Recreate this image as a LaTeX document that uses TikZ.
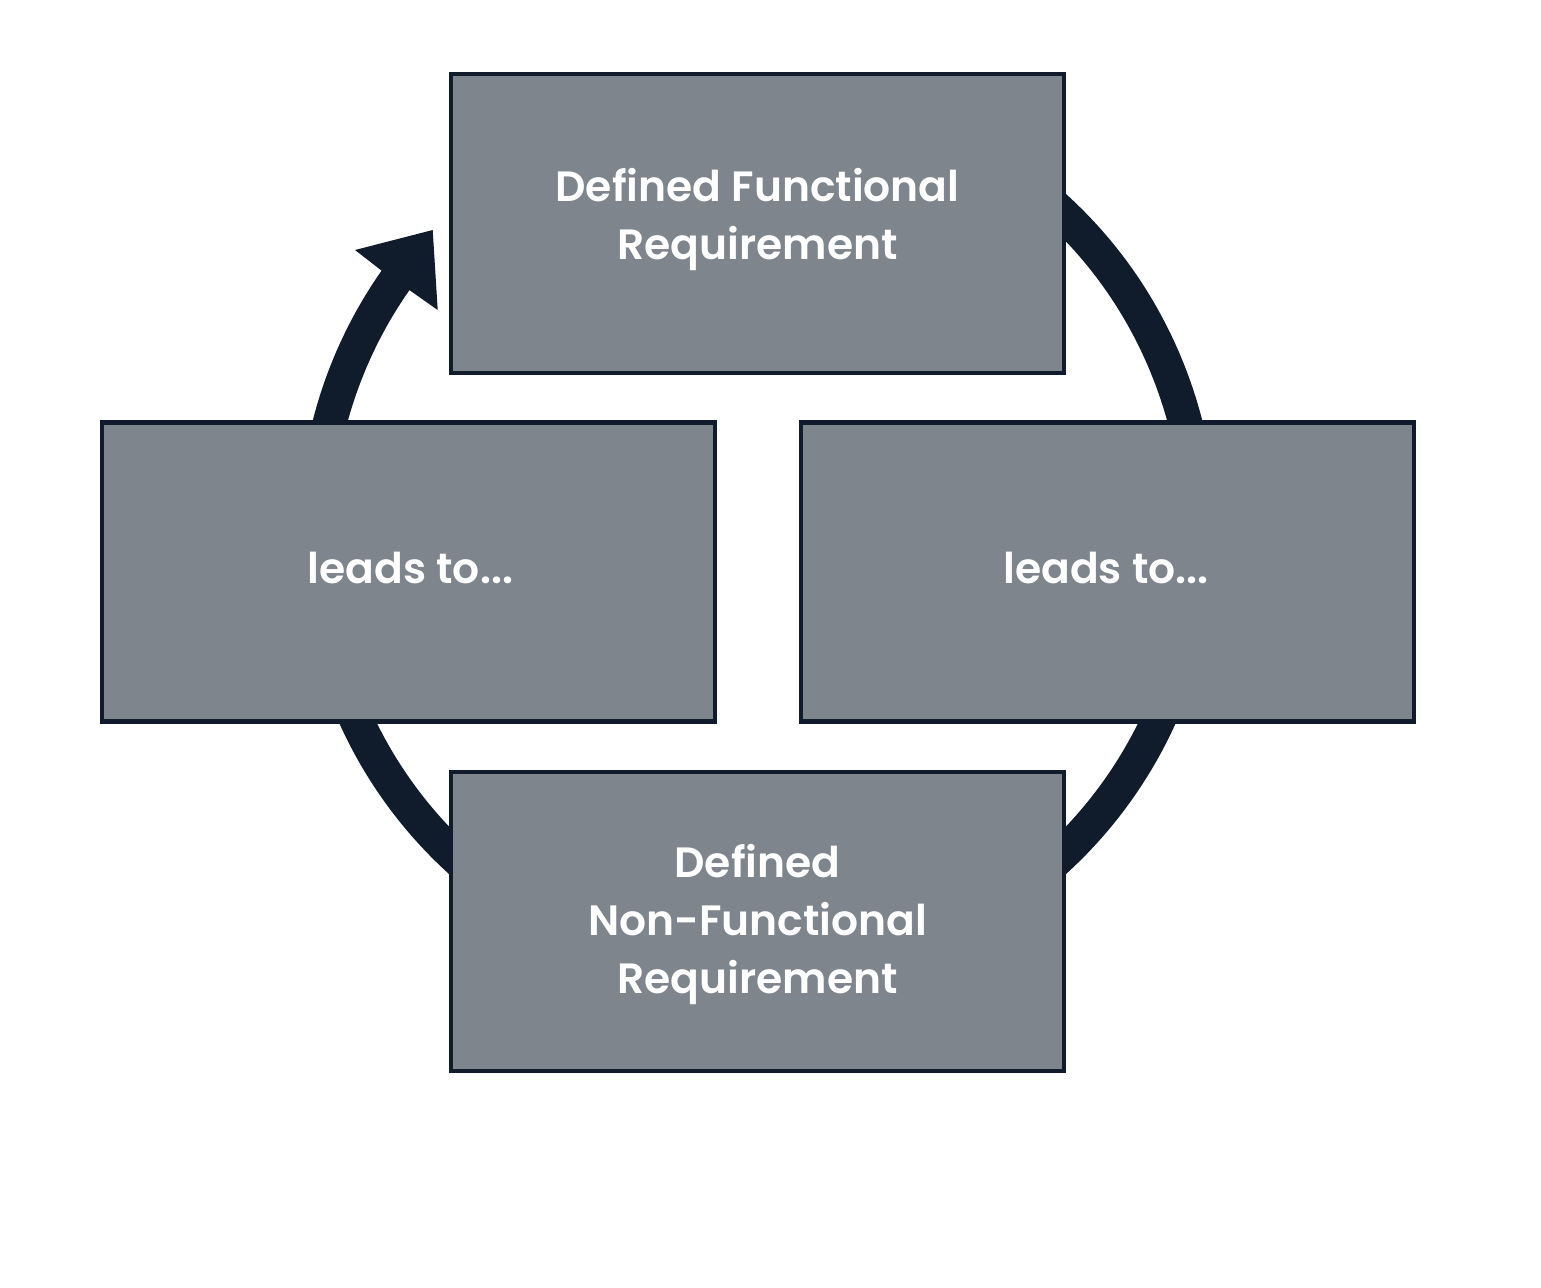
\documentclass[tikz,border=0pt]{standalone}
\usepackage{fontspec}
\setmainfont{Poppins}[BoldFont={Poppins SemiBold}]
\definecolor{boxfill}{HTML}{7F858D}
\definecolor{navy}{HTML}{101C2B}
\begin{document}
\begin{tikzpicture}[x=0.5pt,y=0.5pt,
  box/.style={draw=navy, line width=2.25pt, fill=boxfill, minimum width=306.5pt, minimum height=149.5pt, inner sep=0pt},
  lbl/.style={text=white, font=\fontsize{21.2}{29}\selectfont\bfseries, align=center, inner sep=0pt},
  ring/.style={draw=navy, line width=17pt, line cap=butt}]
\useasboundingbox (0,0) rectangle (1541,-1287);
\coordinate (c) at (757.5,-534);
% ring behind boxes
\draw[ring] (c) ++(110:442) arc[start angle=110, end angle=-216, radius=442];
\fill[navy] (355,-250) -- (432.7,-230) -- (437.7,-310) -- (409.3,-290) -- (381.7,-270.7) -- cycle;
% boxes
\node[box] (top) at (757.5,-223.5) {};
\node[box] (left) at (408.5,-572) {};
\node[box] (right) at (1107.5,-572) {};
\node[box] (bottom) at (757.5,-921.5) {};
% labels
\node[lbl] (toptxt) at (757.5,-219) {Defined Functional\\Requirement};
\node[lbl] (lefttxt) at (410.5,-568) {leads to...};
\node[lbl] (righttxt) at (1106,-568) {leads to...};
\node[lbl] (bottomtxt) at (757.5,-924) {Defined\\Non-Functional\\Requirement};
\end{tikzpicture}
\end{document}
